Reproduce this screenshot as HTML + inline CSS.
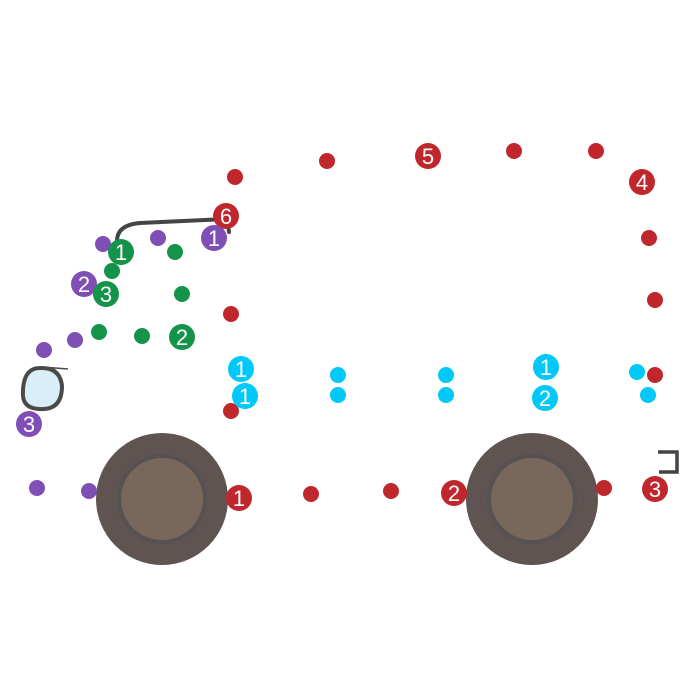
<!DOCTYPE html>
<html><head><meta charset="utf-8"><style>html,body{margin:0;padding:0;background:#fff}svg{display:block}</style></head>
<body>
<svg width="700" height="700" viewBox="0 0 700 700" xmlns="http://www.w3.org/2000/svg" font-family="Liberation Sans, sans-serif">
<rect width="700" height="700" fill="#fff"/>
<g>
<circle cx="162" cy="499" r="66" fill="#5f5452"/>
<circle cx="162" cy="499" r="43" fill="#7a675c" stroke="#575252" stroke-width="4"/>
<circle cx="532" cy="499" r="66" fill="#5f5452"/>
<circle cx="532" cy="499" r="43" fill="#7a675c" stroke="#575252" stroke-width="4"/>
</g>
<path d="M117,241 Q117,225 140,223 L227,219 L229,232" fill="none" stroke="#444" stroke-width="4" stroke-linecap="round"/>
<path d="M40,368 Q60,367 62,386 Q62,408 44,409 Q24,410 23,396 Q22,368 40,368 Z" fill="#d8eef8" stroke="#4a4a4a" stroke-width="4"/>
<path d="M42,367 L68,369" stroke="#4a4a4a" stroke-width="1.5"/>
<path d="M658,452 L677,452 L677,472 L659,472" fill="none" stroke="#444" stroke-width="3.5"/>
<g fill="#c0272d">
<circle cx="235" cy="177" r="8"/><circle cx="327" cy="161" r="8"/><circle cx="514" cy="151" r="8"/><circle cx="596" cy="151" r="8"/>
<circle cx="649" cy="238" r="8"/><circle cx="655" cy="300" r="8"/><circle cx="231" cy="314" r="8"/><circle cx="655" cy="375" r="8"/>
<circle cx="231" cy="411" r="8"/><circle cx="311" cy="494" r="8"/><circle cx="391" cy="491" r="8"/><circle cx="604" cy="488" r="8"/>
</g>
<g fill="#7f4fb5">
<circle cx="103" cy="244" r="8"/><circle cx="158" cy="238" r="8"/><circle cx="44" cy="350" r="8"/><circle cx="75" cy="340" r="8"/>
<circle cx="37" cy="488" r="8"/><circle cx="89" cy="491" r="8"/>
</g>
<g fill="#14934a">
<circle cx="112" cy="271" r="8"/><circle cx="175" cy="252" r="8"/><circle cx="182" cy="294" r="8"/><circle cx="99" cy="332" r="8"/><circle cx="142" cy="336" r="8"/>
</g>
<g fill="#00c8f8">
<circle cx="338" cy="375" r="8"/><circle cx="338" cy="395" r="8"/><circle cx="446" cy="375" r="8"/><circle cx="446" cy="395" r="8"/>
<circle cx="637" cy="372" r="8"/><circle cx="648" cy="395" r="8"/>
</g>
<g font-size="22" fill="#fff" text-anchor="middle">
<circle cx="428" cy="156" r="13" fill="#c0272d"/><text x="428" y="164">5</text>
<circle cx="642" cy="182" r="13" fill="#c0272d"/><text x="642" y="190">4</text>
<circle cx="226" cy="216" r="13" fill="#c0272d"/><text x="226" y="224">6</text>
<circle cx="239" cy="498" r="13" fill="#c0272d"/><text x="239" y="506">1</text>
<circle cx="454" cy="493" r="13" fill="#c0272d"/><text x="454" y="501">2</text>
<circle cx="655" cy="489" r="13" fill="#c0272d"/><text x="655" y="497">3</text>
<circle cx="214" cy="238" r="13" fill="#7f4fb5"/><text x="214" y="246">1</text>
<circle cx="84" cy="284" r="13" fill="#7f4fb5"/><text x="84" y="292">2</text>
<circle cx="29" cy="424" r="13" fill="#7f4fb5"/><text x="29" y="432">3</text>
<circle cx="121" cy="252" r="13" fill="#14934a"/><text x="121" y="260">1</text>
<circle cx="106" cy="294" r="13" fill="#14934a"/><text x="106" y="302">3</text>
<circle cx="182" cy="337" r="13" fill="#14934a"/><text x="182" y="345">2</text>
<circle cx="241" cy="369" r="13" fill="#00c8f8"/><text x="241" y="377">1</text>
<circle cx="245" cy="396" r="13" fill="#00c8f8"/><text x="245" y="404">1</text>
<circle cx="546" cy="367" r="13" fill="#00c8f8"/><text x="546" y="375">1</text>
<circle cx="545" cy="398" r="13" fill="#00c8f8"/><text x="545" y="406">2</text>
</g>
</svg>
</body></html>
